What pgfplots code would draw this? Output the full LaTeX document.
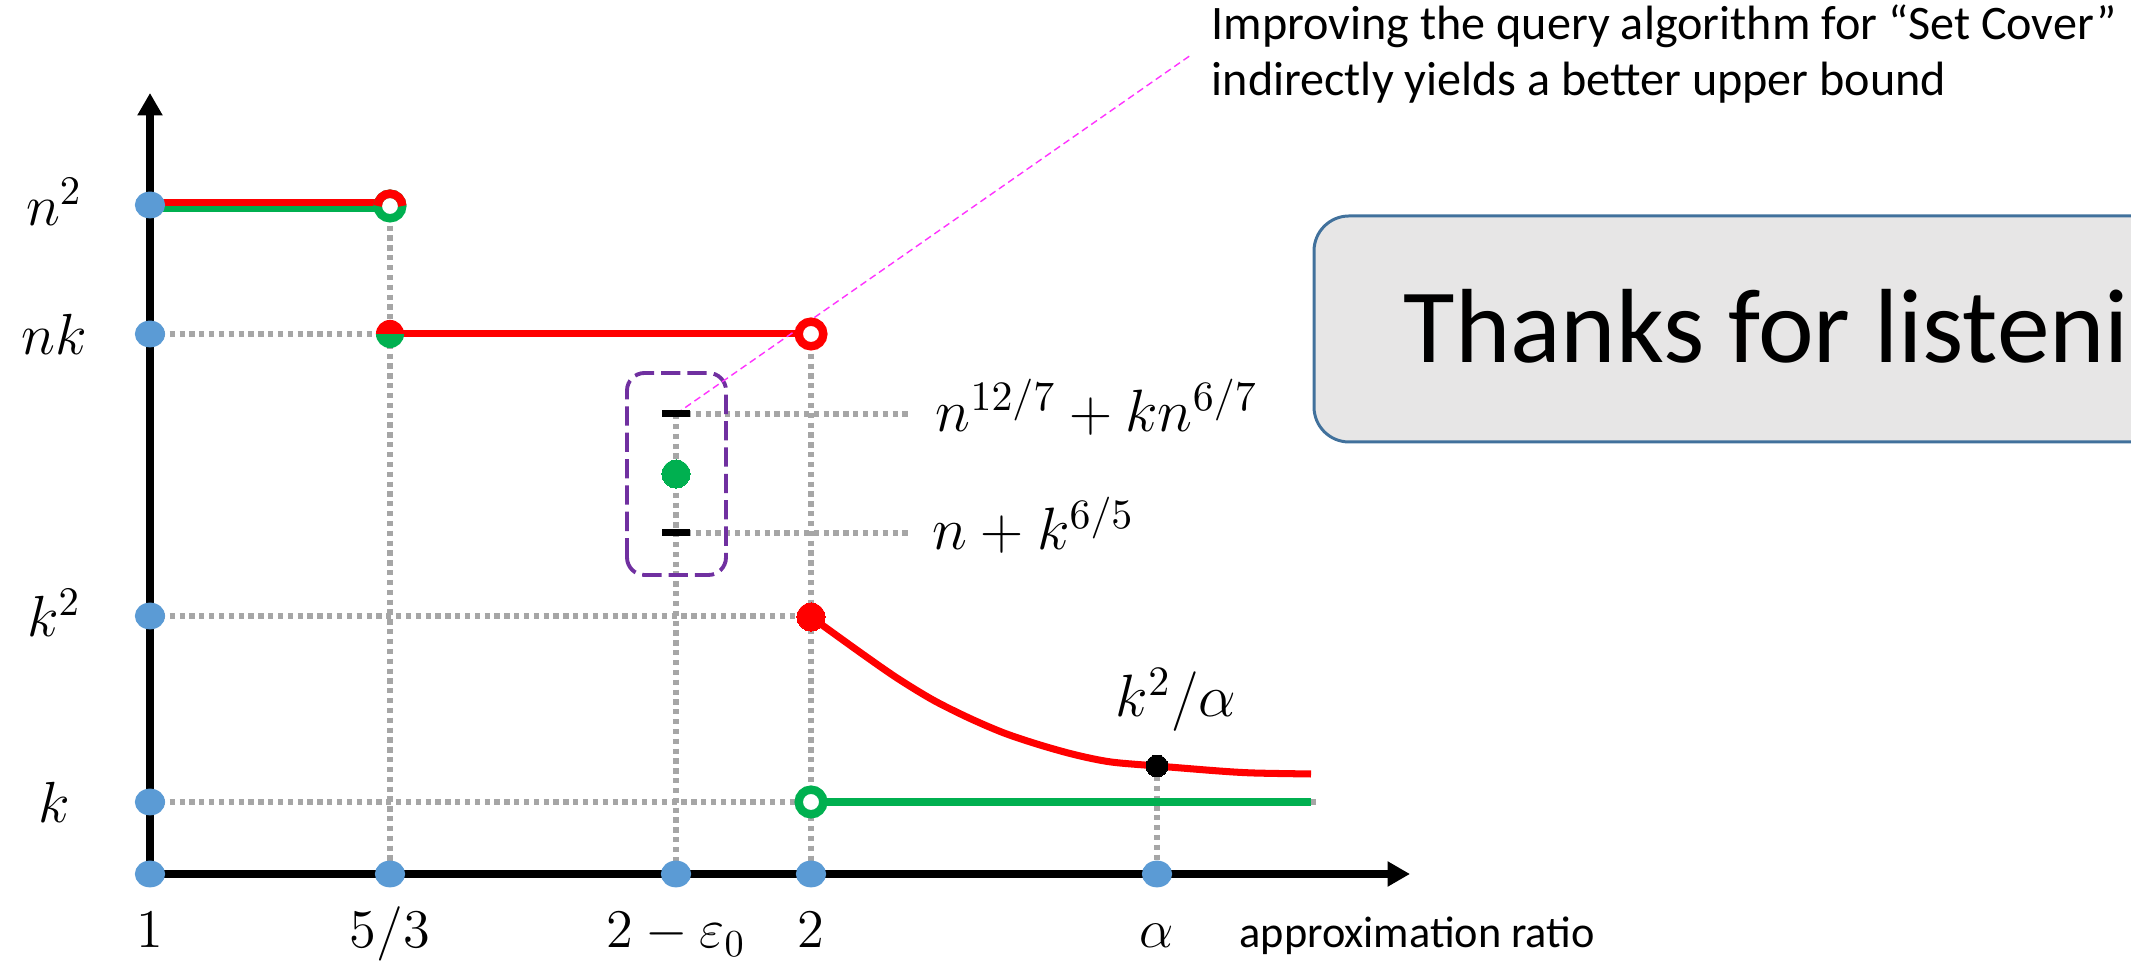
\RequirePackage{fix-cm}
\documentclass[border=0pt]{standalone}
\usepackage{fontspec}
\setmainfont{Carlito}
\usepackage{pgfplots}
\pgfplotsset{compat=1.18}
\usetikzlibrary{arrows.meta}

\definecolor{cRed}{HTML}{FF0000}
\definecolor{cGreen}{HTML}{00B050}
\definecolor{cBlue}{HTML}{5B9BD5}
\definecolor{cPurple}{HTML}{7030A0}
\definecolor{cGuide}{HTML}{A6A6A6}
\definecolor{cBoxFill}{HTML}{E7E6E6}
\definecolor{cBoxEdge}{HTML}{41719C}
\definecolor{cPink}{HTML}{FF33FF}

% half markers for points where two bounds meet
\pgfdeclareplotmark{tophalfdisc}{%
  \pgfpathmoveto{\pgfqpoint{\pgfplotmarksize}{0pt}}%
  \pgfpatharc{0}{180}{\pgfplotmarksize}%
  \pgfpathclose
  \pgfusepathqfill}
\pgfdeclareplotmark{bottomhalfdisc}{%
  \pgfpathmoveto{\pgfqpoint{-\pgfplotmarksize}{0pt}}%
  \pgfpatharc{180}{360}{\pgfplotmarksize}%
  \pgfpathclose
  \pgfusepathqfill}
\pgfdeclareplotmark{tophalfring}{%
  \pgfpathmoveto{\pgfqpoint{\pgfplotmarksize}{0pt}}%
  \pgfpatharc{0}{180}{\pgfplotmarksize}%
  \pgfusepathqstroke}

\tikzset{
  guide/.style={cGuide, line width=1.5pt, dash pattern=on 1.5pt off 1.3pt},
  bound/.style={line width=2pt},
  mathlbl/.style={inner sep=0pt, font=\fontsize{17}{20}\selectfont},
  dot/.style={only marks, mark=*, mark options={solid, line width=0pt}},
}

\begin{document}
\begin{tikzpicture}
% canvas: 1 unit = 0.01cm, axis corner (150,88) sits at the origin
\path[use as bounding box, clip] (-1.50,-0.88) rectangle (19.81,8.74);
\begin{axis}[
  at={(0,0)}, anchor=south west,
  scale only axis, width=12.6cm, height=7.81cm,
  xmin=150, xmax=1410, ymin=88, ymax=869,
  axis x line=bottom, axis y line=left,
  axis line style={line width=2.1pt, -{Triangle[length=6.4pt,width=6.8pt]}},
  clip=false,
  xtick={150,390,676,811,1157},
  xticklabels={$1$,$5/3$,$2-\varepsilon_0$,$2$,$\alpha$},
  ytick={757,628,346,160},
  yticklabels={$n^2$,$nk$,$k^2$,$k$},
  major tick length=0pt,
  tick label style={font=\fontsize{15.5}{18}\selectfont, inner sep=0pt},
  xticklabel style={anchor=base, yshift=-0.74cm},
  yticklabel style={anchor=base, xshift=-0.96cm, yshift=-0.21cm,
    font=\fontsize{16.5}{19}\selectfont},
]

% dotted guide lines
\addplot[guide] coordinates {(150,628) (390,628)};
\addplot[guide] coordinates {(390,756) (390,88)};
\addplot[guide] coordinates {(811,628) (811,88)};
\addplot[guide] coordinates {(150,346) (811,346)};
\addplot[guide] coordinates {(150,160) (1316,160)};
\addplot[guide] coordinates {(676,548) (676,88)};
\addplot[guide] coordinates {(676,548) (912,548)};
\addplot[guide] coordinates {(676,429) (912,429)};
\addplot[guide] coordinates {(1157,196) (1157,88)};

% bounds at n^2 (lower bound green, upper bound red)
\addplot[bound, cGreen] coordinates {(150,753) (390,753)};
\addplot[bound, cRed]   coordinates {(150,759) (390,759)};
% upper bound at nk
\addplot[bound, cRed] coordinates {(390,628) (811,628)};
% upper bound k^2/alpha beyond ratio 2
\addplot[bound, cRed, smooth] coordinates {
  (811,345) (861,309) (897,284) (933,262) (969,244) (1004,229)
  (1040,217) (1076,207) (1111,200) (1157,196) (1219,191) (1254,189) (1311,188)};
% lower bound k beyond ratio 2
\addplot[bound, cGreen] coordinates {(811,160) (1311,160)};

% open end points
\addplot[only marks, mark=*, mark size=3.5pt,
  mark options={fill=white, draw=cGreen, line width=2.4pt}] coordinates {(390,756) (811,160)};
\addplot[only marks, mark=tophalfring, mark size=3.5pt,
  mark options={draw=cRed, line width=2.4pt}] coordinates {(390,756)};
\addplot[only marks, mark=*, mark size=3.5pt,
  mark options={fill=white, draw=cRed, line width=2.4pt}] coordinates {(811,628)};

% closed end points
\addplot[only marks, mark=bottomhalfdisc, mark size=4pt,
  mark options={fill=cGreen}] coordinates {(390,628)};
\addplot[only marks, mark=tophalfdisc, mark size=4pt,
  mark options={fill=cRed}] coordinates {(390,628)};
\addplot[dot, cRed, mark size=4pt] coordinates {(811,345)};
\addplot[dot, cGreen, mark size=4pt] coordinates {(676,488)};
\addplot[dot, black, mark size=3.1pt] coordinates {(1157,196)};

% bounds at ratio 2 - epsilon_0
\addplot[only marks, mark=-, mark size=4pt,
  mark options={draw=black, line width=2pt}] coordinates {(676,548) (676,429)};

% points on the axes
\addplot[dot, cBlue, mark size=4.1pt, mark options={yscale=0.88}] coordinates {
  (150,757) (150,628) (150,346) (150,160)
  (150,88) (390,88) (676,88) (811,88) (1157,88)};

% labels of the bounds
\node[mathlbl, anchor=base west] at (axis cs:935,530) {$n^{12/7}+kn^{6/7}$};
\node[mathlbl, anchor=base west] at (axis cs:932,412) {$n+k^{6/5}$};
\node[mathlbl, anchor=base] at (axis cs:1176,245) {$k^2/\alpha$};
\node[anchor=base west, inner sep=0pt, font=\fontsize{12.6}{15}\selectfont]
  at (axis cs:1239,14) {approximation ratio};

% highlighted region and remark
\draw[cPurple, line width=1.1pt, dash pattern=on 5.5pt off 2pt, rounded corners=5pt]
  (axis cs:627,387) rectangle (axis cs:726,589);
\draw[cPink, line width=0.4pt, dash pattern=on 2pt off 1.2pt]
  (axis cs:676,548) -- (axis cs:1191,907);
\node[anchor=base west, inner sep=0pt, font=\fontsize{13.7}{16}\selectfont]
  at (axis cs:1211,922) {Improving the query algorithm for “Set Cover”};
\node[anchor=base west, inner sep=0pt, font=\fontsize{13.7}{16}\selectfont]
  at (axis cs:1211,866) {indirectly yields a better upper bound};

% closing box
\draw[fill=cBoxFill, draw=cBoxEdge, line width=0.85pt, rounded corners=0.35cm]
  (axis cs:1314,520) rectangle (axis cs:2250,746);
\node[anchor=base west, inner sep=0pt, font=\fontsize{30}{36}\selectfont]
  at (axis cs:1403,599) {Thanks for listening!};
\end{axis}
\end{tikzpicture}
\end{document}
